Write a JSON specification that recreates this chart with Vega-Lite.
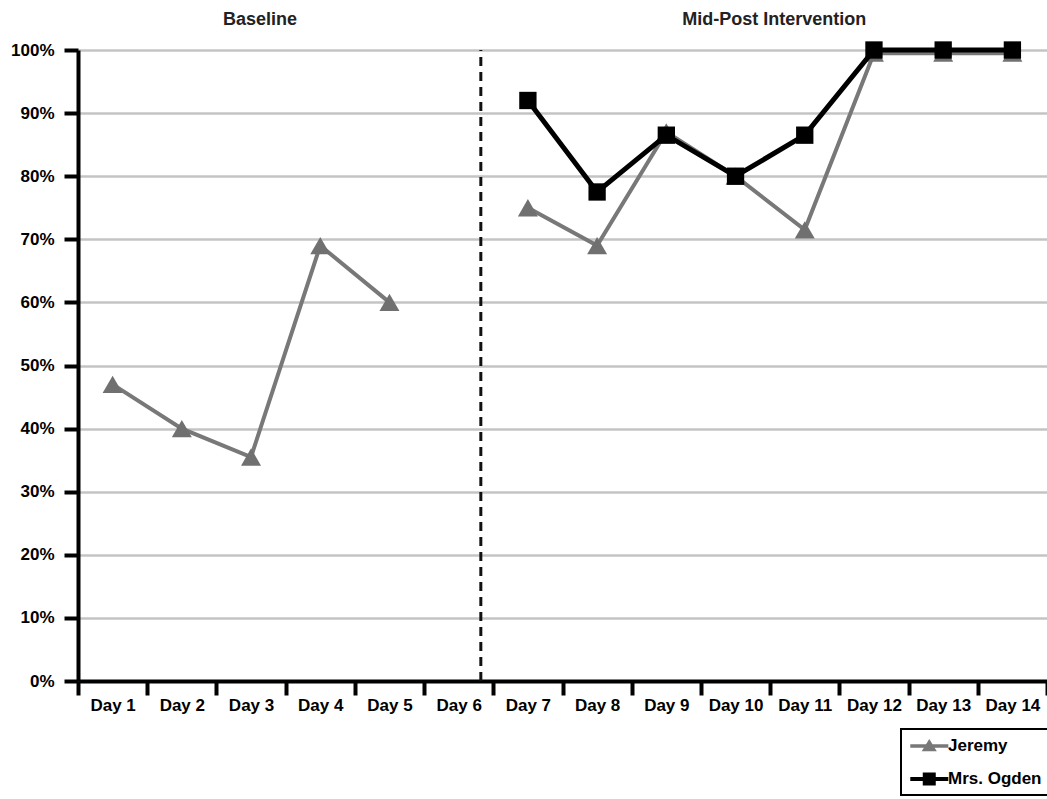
{
  "$schema": "https://vega.github.io/schema/vega-lite/v6.json",
  "autosize": {"type": "none"},
  "padding": {"left": 78, "top": 50, "right": 0, "bottom": 118},
  "width": 969,
  "height": 631,
  "background": "white",
  "config": {
    "view": {"stroke": null},
    "font": "Liberation Sans",
    "axis": {
      "labelFont": "Liberation Sans",
      "labelFontWeight": "bold",
      "labelFontSize": 17,
      "labelColor": "black",
      "domainColor": "black",
      "domainWidth": 4,
      "tickColor": "black",
      "tickWidth": 4,
      "tickSize": 14,
      "title": null
    },
    "legend": {"strokeWidth": 2}
  },
  "encoding": {
    "x": {
      "field": "day",
      "type": "nominal",
      "bandPosition": 0.5,
      "scale": {
        "type": "band",
        "paddingInner": 0,
        "paddingOuter": 0,
        "domain": ["Day 1", "Day 2", "Day 3", "Day 4", "Day 5", "Day 6", "Day 7", "Day 8", "Day 9", "Day 10", "Day 11", "Day 12", "Day 13", "Day 14"]
      },
      "axis": {
        "orient": "bottom",
        "tickBand": "extent",
        "labelAngle": 0,
        "labelPadding": 2,
        "labelOverlap": false,
        "grid": false
      }
    },
    "y": {
      "field": "pct",
      "type": "quantitative",
      "scale": {"domain": [0, 1], "nice": false, "zero": true},
      "axis": {
        "values": [0, 0.1, 0.2, 0.3, 0.4, 0.5, 0.6, 0.7, 0.8, 0.9, 1],
        "format": ".0%",
        "labelPadding": 10,
        "grid": true,
        "gridColor": "#c4c4c4",
        "gridWidth": 2.5
      }
    }
  },
  "layer": [
    {
      "data": {"values": [{"day": "Day 6", "lo": 0, "hi": 1}]},
      "mark": {"type": "rule", "strokeDash": [9, 6], "strokeWidth": 3, "color": "#111111"},
      "encoding": {
        "x": {"field": "day", "type": "nominal", "bandPosition": 0.82},
        "y": {"field": "lo", "type": "quantitative"},
        "y2": {"field": "hi"}
      }
    },
    {
      "data": {"values": [{"label": "Baseline", "day": "Day 3", "pct": 1.0475}]},
      "mark": {"type": "text", "font": "Liberation Sans", "fontWeight": "bold", "fontSize": 18, "color": "#222222", "baseline": "middle", "align": "center"},
      "encoding": {
        "x": {"field": "day", "type": "nominal", "bandPosition": 0.63},
        "text": {"field": "label"}
      }
    },
    {
      "data": {"values": [{"label": "Mid-Post Intervention", "day": "Day 11", "pct": 1.0475}]},
      "mark": {"type": "text", "font": "Liberation Sans", "fontWeight": "bold", "fontSize": 18, "color": "#222222", "baseline": "middle", "align": "center"},
      "encoding": {
        "x": {"field": "day", "type": "nominal", "bandPosition": 0.06},
        "text": {"field": "label"}
      }
    },
    {
      "data": {"name": "scores", "values": [
        {"day": "Day 1", "phase": "Baseline", "series": "Jeremy", "pct": 0.47},
        {"day": "Day 2", "phase": "Baseline", "series": "Jeremy", "pct": 0.40},
        {"day": "Day 3", "phase": "Baseline", "series": "Jeremy", "pct": 0.355},
        {"day": "Day 4", "phase": "Baseline", "series": "Jeremy", "pct": 0.69},
        {"day": "Day 5", "phase": "Baseline", "series": "Jeremy", "pct": 0.60},
        {"day": "Day 7", "phase": "Intervention", "series": "Jeremy", "pct": 0.75},
        {"day": "Day 8", "phase": "Intervention", "series": "Jeremy", "pct": 0.69},
        {"day": "Day 9", "phase": "Intervention", "series": "Jeremy", "pct": 0.87},
        {"day": "Day 10", "phase": "Intervention", "series": "Jeremy", "pct": 0.80},
        {"day": "Day 11", "phase": "Intervention", "series": "Jeremy", "pct": 0.715},
        {"day": "Day 12", "phase": "Intervention", "series": "Jeremy", "pct": 0.995},
        {"day": "Day 13", "phase": "Intervention", "series": "Jeremy", "pct": 0.995},
        {"day": "Day 14", "phase": "Intervention", "series": "Jeremy", "pct": 0.995},
        {"day": "Day 7", "phase": "Intervention", "series": "Mrs. Ogden", "pct": 0.92},
        {"day": "Day 8", "phase": "Intervention", "series": "Mrs. Ogden", "pct": 0.775},
        {"day": "Day 9", "phase": "Intervention", "series": "Mrs. Ogden", "pct": 0.865},
        {"day": "Day 10", "phase": "Intervention", "series": "Mrs. Ogden", "pct": 0.80},
        {"day": "Day 11", "phase": "Intervention", "series": "Mrs. Ogden", "pct": 0.865},
        {"day": "Day 12", "phase": "Intervention", "series": "Mrs. Ogden", "pct": 1.0},
        {"day": "Day 13", "phase": "Intervention", "series": "Mrs. Ogden", "pct": 1.0},
        {"day": "Day 14", "phase": "Intervention", "series": "Mrs. Ogden", "pct": 1.0}
      ]},
      "layer": [
        {
          "transform": [{"filter": "datum.series === 'Jeremy'"}],
          "mark": {"type": "line", "strokeWidth": 4, "color": "#787878"},
          "encoding": {"detail": {"field": "phase"}}
        },
        {
          "transform": [{"filter": "datum.series === 'Jeremy'"}],
          "mark": {"type": "point", "filled": true, "opacity": 1, "shape": "triangle-up", "size": 400, "color": "#707070"}
        },
        {
          "transform": [{"filter": "datum.series === 'Mrs. Ogden'"}],
          "mark": {"type": "line", "strokeWidth": 5, "color": "#000000"},
          "encoding": {"detail": {"field": "phase"}}
        },
        {
          "transform": [{"filter": "datum.series === 'Mrs. Ogden'"}],
          "mark": {"type": "point", "filled": true, "opacity": 1, "shape": "square", "size": 300, "color": "#000000"}
        },
        {
          "mark": {"type": "point", "filled": true, "opacity": 0},
          "encoding": {
            "color": {
              "field": "series", "type": "nominal",
              "scale": {"domain": ["Jeremy", "Mrs. Ogden"], "range": ["#787878", "#000000"]},
              "legend": {"title": null, "orient": "none", "legendX": 823, "legendY": 679, "padding": 8, "strokeColor": "black", "symbolSize": 300, "symbolStrokeWidth": 0, "symbolOpacity": 1, "labelFont": "Liberation Sans", "labelFontSize": 17, "labelFontWeight": "bold", "labelColor": "black", "labelOffset": 21, "rowPadding": 16}
            },
            "shape": {
              "field": "series", "type": "nominal",
              "scale": {"domain": ["Jeremy", "Mrs. Ogden"], "range": ["M-0.89,-0.2H3.5V0.2H-0.89ZM0.43,0.6L1.3,-0.8L2.17,0.6Z", "M-0.89,-0.22H3.5V0.22H-0.89ZM0.55,-0.75H2.05V0.75H0.55Z"]},
              "legend": {"title": null, "orient": "none", "legendX": 823, "legendY": 679, "padding": 8, "strokeColor": "black", "symbolSize": 300, "symbolStrokeWidth": 0, "symbolOpacity": 1, "labelFont": "Liberation Sans", "labelFontSize": 17, "labelFontWeight": "bold", "labelColor": "black", "labelOffset": 21, "rowPadding": 16}
            }
          }
        }
      ]
    }
  ]
}
